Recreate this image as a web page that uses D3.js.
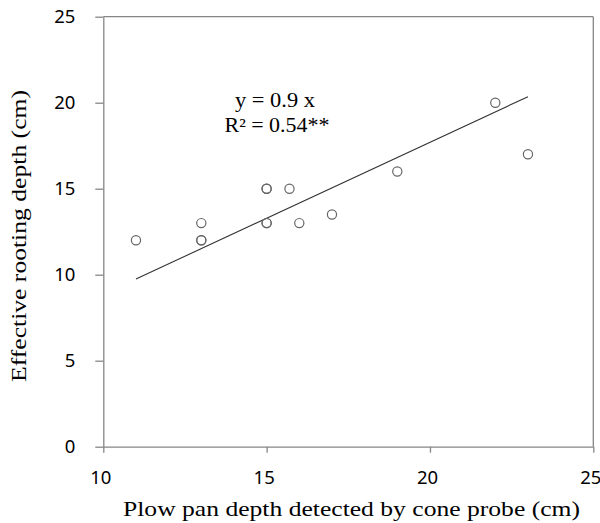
<!DOCTYPE html>
<html><head><meta charset="utf-8">
<script src="https://cdn.jsdelivr.net/npm/d3@7"></script>
<style>body{margin:0;background:#fff}</style>
</head><body>
<svg id="c" width="600" height="523"></svg>
<script>
const xs = [11, 13, 13, 13, 15, 15, 15, 15, 15.7, 16, 17, 19, 22, 23];
const ys = [12, 13, 12, 12, 15, 15, 13, 13, 15, 13, 13.5, 16, 20, 17];
const trendX = [11, 23];
const trendY = [9.75, 20.35];
const xTicks = [10, 15, 20, 25];
const yTicks = [0, 5, 10, 15, 20, 25];
const eqLines = ["y = 0.9 x", "R\u00B2 = 0.54**"];
const xTitle = "Plow pan depth detected by cone probe (cm)";
const yTitle = "Effective rooting depth (cm)";

const svg = d3.select("#c");
const L = 103.3, R = 593.3, T = 16.7, B = 446.7;
const x = d3.scaleLinear().domain([10, 25]).range([L, R]);
const y = d3.scaleLinear().domain([0, 25]).range([B, T]);
const axisCol = "#868686";

// frame top/right
svg.append("line").attr("x1", L).attr("x2", R).attr("y1", T).attr("y2", T).attr("stroke", axisCol).attr("stroke-width", 1.3);
svg.append("line").attr("x1", R).attr("x2", R).attr("y1", T).attr("y2", B).attr("stroke", axisCol).attr("stroke-width", 1.3);

const xa = svg.append("g").attr("transform", `translate(0,${B})`)
  .call(d3.axisBottom(x).tickValues(xTicks).tickSize(6).tickPadding(18).tickSizeOuter(0));
const ya = svg.append("g").attr("transform", `translate(${L},0)`)
  .call(d3.axisLeft(y).tickValues(yTicks).tickSize(8).tickPadding(20).tickSizeOuter(0));
[xa, ya].forEach(a => {
  a.select(".domain").attr("stroke", axisCol).attr("stroke-width", 1.3);
  a.selectAll(".tick line").attr("stroke", axisCol).attr("stroke-width", 1.3);
  a.selectAll(".tick text").attr("fill", "#000").style("font-family", "'Noto Sans', 'Open Sans', sans-serif").style("font-size", "18.5px");
});
xa.selectAll(".tick text").attr("dx", "-3");

svg.append("line")
  .attr("x1", x(trendX[0])).attr("y1", y(trendY[0]))
  .attr("x2", x(trendX[1])).attr("y2", y(trendY[1]))
  .attr("stroke", "#333").attr("stroke-width", 1.1);

svg.selectAll("circle.pt").data(xs.map((v, i) => [v, ys[i]])).enter().append("circle")
  .attr("class", "pt")
  .attr("cx", d => x(d[0])).attr("cy", d => y(d[1])).attr("r", 4.6)
  .attr("fill", "none").attr("stroke", "#666").attr("stroke-width", 1.2);

const serif = "'Liberation Serif', 'Times New Roman', serif";
svg.append("text").attr("x", 275).attr("y", 107).attr("text-anchor", "middle")
  .attr("textLength", 80).attr("lengthAdjust", "spacingAndGlyphs")
  .style("font-family", serif).style("font-size", "20px").text(eqLines[0]);
svg.append("text").attr("x", 277).attr("y", 132).attr("text-anchor", "middle")
  .attr("textLength", 105).attr("lengthAdjust", "spacingAndGlyphs")
  .style("font-family", serif).style("font-size", "20px").text(eqLines[1]);

svg.append("text").attr("x", 351.5).attr("y", 516).attr("text-anchor", "middle")
  .attr("textLength", 457).attr("lengthAdjust", "spacingAndGlyphs")
  .style("font-family", serif).style("font-size", "22px").text(xTitle);
svg.append("text").attr("transform", `translate(26,236) rotate(-90)`).attr("text-anchor", "middle")
  .attr("textLength", 292).attr("lengthAdjust", "spacingAndGlyphs")
  .style("font-family", serif).style("font-size", "21px").text(yTitle);
</script>
</body></html>
